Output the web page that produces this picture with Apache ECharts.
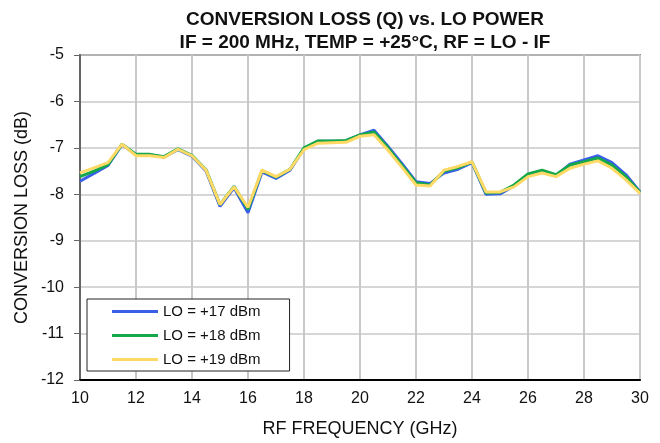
<!DOCTYPE html>
<html>
<head>
<meta charset="utf-8">
<script src="https://cdn.jsdelivr.net/npm/echarts@6/dist/echarts.min.js"></script>
<style>
  html, body { margin: 0; padding: 0; background: #fff; }
  #chart { width: 660px; height: 443px; }
</style>
</head>
<body>
<div id="chart"></div>
<script>
// RF frequency, GHz
var freq = [10, 10.5, 11, 11.5, 12, 12.5, 13, 13.5, 14, 14.5, 15, 15.5, 16, 16.5, 17, 17.5, 18, 18.5, 19, 19.5,
  20, 20.5, 21, 21.5, 22, 22.5, 23, 23.5, 24, 24.5, 25, 25.5, 26, 26.5, 27, 27.5, 28, 28.5, 29, 29.5, 30];

// conversion loss (dB) per LO power
var lo17 = [-7.72, -7.55, -7.38, -6.93, -7.15, -7.15, -7.2, -7.04, -7.18, -7.5, -8.26, -7.86, -8.4, -7.52, -7.66, -7.48, -7.02, -6.86, -6.86, -6.85,
  -6.72, -6.62, -6.97, -7.34, -7.73, -7.77, -7.54, -7.46, -7.32, -8.0, -7.99, -7.82, -7.58, -7.5, -7.6, -7.35, -7.26, -7.17, -7.32, -7.58, -7.95];
var lo18 = [-7.62, -7.5, -7.36, -6.92, -7.14, -7.14, -7.19, -7.02, -7.16, -7.47, -8.22, -7.83, -8.32, -7.49, -7.63, -7.46, -7.0, -6.85, -6.85, -6.84,
  -6.72, -6.66, -7.0, -7.38, -7.75, -7.8, -7.5, -7.43, -7.3, -7.97, -7.96, -7.8, -7.56, -7.48, -7.58, -7.37, -7.3, -7.22, -7.37, -7.62, -7.96];
var lo19 = [-7.54, -7.43, -7.32, -6.92, -7.17, -7.17, -7.21, -7.03, -7.17, -7.48, -8.22, -7.84, -8.28, -7.48, -7.62, -7.46, -7.04, -6.9, -6.89, -6.88,
  -6.75, -6.72, -7.05, -7.42, -7.8, -7.82, -7.48, -7.4, -7.3, -7.95, -7.95, -7.84, -7.62, -7.54, -7.62, -7.44, -7.35, -7.28, -7.44, -7.69, -7.98];

var seriesNames = ["LO = +17 dBm", "LO = +18 dBm", "LO = +19 dBm"];
var seriesColors = ["#3a5ee8", "#13a84a", "#ffd966"];

function pairs(ys) {
  var out = [];
  for (var i = 0; i < freq.length; i++) {
    out.push([freq[i], ys[i]]);
  }
  return out;
}

var chart = echarts.init(document.getElementById("chart"));
var font = "'Liberation Sans', Arial, sans-serif";

chart.setOption({
  animation: false,
  title: {
    text: "CONVERSION LOSS (Q) vs. LO POWER\nIF = 200 MHz, TEMP = +25°C, RF = LO - IF",
    left: 360,
    top: 3,
    textAlign: "center",
    textStyle: {
      fontFamily: font,
      fontSize: 19,
      fontWeight: "bold",
      color: "#111",
      lineHeight: 23
    }
  },
  grid: {
    left: 80,
    right: 20,
    top: 55,
    bottom: 63,
    show: true,
    borderColor: "#444",
    borderWidth: 1.5
  },
  legend: {
    orient: "vertical",
    left: 87,
    top: 299,
    padding: [5, 29, 4, 25],
    itemGap: 9,
    itemWidth: 46,
    itemHeight: 3,
    icon: "rect",
    borderColor: "#222",
    borderWidth: 1,
    backgroundColor: "#fff",
    textStyle: { fontFamily: font, fontSize: 15, color: "#111" },
    data: seriesNames
  },
  xAxis: {
    type: "value",
    min: 10,
    max: 30,
    interval: 2,
    name: "RF FREQUENCY (GHz)",
    nameLocation: "middle",
    nameGap: 40,
    nameMoveOverlap: false,
    nameTextStyle: { fontFamily: font, fontSize: 18, color: "#111" },
    axisLine: { lineStyle: { color: "#000", width: 2 } },
    axisTick: { show: false },
    axisLabel: { fontFamily: font, fontSize: 16, color: "#111", margin: 11 },
    splitLine: { lineStyle: { color: "#c8c8c8", width: 2 } }
  },
  yAxis: {
    type: "value",
    min: -12,
    max: -5,
    interval: 1,
    name: "CONVERSION LOSS (dB)",
    nameLocation: "middle",
    nameGap: 49,
    nameMoveOverlap: false,
    nameTextStyle: { fontFamily: font, fontSize: 18, color: "#111" },
    axisLine: { show: true, lineStyle: { color: "#666", width: 2 } },
    axisTick: { show: true, inside: false, length: 6, lineStyle: { color: "#666" } },
    axisLabel: { fontFamily: font, fontSize: 16, color: "#111", margin: 16 },
    splitLine: { lineStyle: { color: "#c8c8c8", width: 1.5 } }
  },
  series: [lo17, lo18, lo19].map(function (ys, i) {
    return {
      name: seriesNames[i],
      type: "line",
      data: pairs(ys),
      showSymbol: false,
      symbol: "none",
      color: seriesColors[i],
      lineStyle: { color: seriesColors[i], width: 3 },
      z: 2 + i
    };
  })
});
</script>
</body>
</html>
